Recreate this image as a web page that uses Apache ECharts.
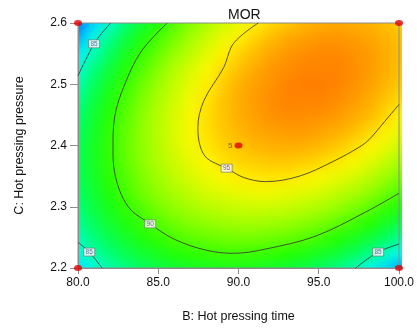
<!DOCTYPE html>
<html><head><meta charset="utf-8">
<script src="https://cdn.jsdelivr.net/npm/echarts@6/dist/echarts.min.js"></script>
<style>
html,body{margin:0;padding:0;background:#fff;}
#wrap{position:relative;width:417px;height:328px;overflow:hidden;background:#fff;}
#clip{position:absolute;left:78px;top:23px;width:324px;height:246px;overflow:hidden;}
#heat{position:absolute;left:-40px;top:-23px;width:379px;height:309px;filter:blur(6px);}
#main{position:absolute;left:0;top:0;width:417px;height:328px;}
</style></head>
<body><div id="wrap"><div id="clip"><div id="heat"></div></div><div id="main"></div></div>
<script>
// ---- data ----
const gridB = [80,81,82,83,84,85,86,87,88,89,90,91,92,93,94,95,96,97,98,99,100];
const gridC = [2.2,2.225,2.25,2.275,2.3,2.325,2.35,2.375,2.4,2.425,2.45,2.475,2.5,2.525,2.55,2.575,2.6];
// MOR surface, one row per C value (bottom to top), one column per B value
const morGrid = [
 [83.5,84.5,85.4,86.2,86.9,87.4,87.9,88.2,88.4,88.5,88.5,88.4,88.1,87.8,87.3,86.7,86.1,85.3,84.3,83.3,82.2],
 [84.5,85.5,86.4,87.3,88.0,88.6,89.1,89.5,89.7,89.9,89.9,89.8,89.6,89.3,88.9,88.4,87.8,87.0,86.1,85.1,84.1],
 [85.2,86.3,87.3,88.2,89.0,89.6,90.2,90.6,90.9,91.1,91.2,91.2,91.0,90.8,90.4,89.9,89.3,88.6,87.8,86.8,85.8],
 [85.9,87.0,88.1,89.0,89.8,90.5,91.1,91.6,91.9,92.2,92.3,92.3,92.2,92.0,91.7,91.3,90.7,90.1,89.3,88.4,87.4],
 [86.4,87.6,88.7,89.6,90.5,91.3,91.9,92.4,92.8,93.1,93.3,93.4,93.3,93.2,92.9,92.5,92.0,91.4,90.7,89.8,88.9],
 [86.8,88.0,89.1,90.2,91.1,91.9,92.5,93.1,93.6,93.9,94.1,94.3,94.3,94.1,93.9,93.6,93.1,92.6,91.9,91.1,90.2],
 [87.0,88.3,89.5,90.5,91.5,92.3,93.1,93.7,94.2,94.6,94.9,95.0,95.1,95.0,94.8,94.5,94.1,93.6,93.0,92.2,91.4],
 [87.1,88.4,89.6,90.8,91.8,92.7,93.4,94.1,94.6,95.1,95.4,95.6,95.7,95.7,95.6,95.3,95.0,94.5,93.9,93.2,92.4],
 [87.0,88.4,89.7,90.9,91.9,92.8,93.7,94.4,95.0,95.5,95.8,96.1,96.2,96.3,96.2,96.0,95.7,95.3,94.7,94.1,93.3],
 [86.8,88.3,89.6,90.8,91.9,92.9,93.8,94.5,95.2,95.7,96.1,96.4,96.6,96.7,96.7,96.5,96.3,95.9,95.4,94.8,94.1],
 [86.5,88.0,89.4,90.6,91.8,92.8,93.7,94.5,95.2,95.8,96.3,96.6,96.9,97.0,97.0,96.9,96.7,96.4,96.0,95.4,94.7],
 [86.0,87.6,89.0,90.3,91.5,92.6,93.5,94.4,95.1,95.8,96.3,96.7,97.0,97.2,97.2,97.2,97.0,96.7,96.3,95.8,95.2],
 [85.4,87.0,88.5,89.8,91.1,92.2,93.2,94.1,94.9,95.6,96.2,96.6,96.9,97.2,97.3,97.3,97.2,96.9,96.6,96.1,95.6],
 [84.7,86.3,87.8,89.2,90.5,91.7,92.8,93.7,94.5,95.3,95.9,96.4,96.8,97.0,97.2,97.2,97.2,97.0,96.7,96.3,95.8],
 [83.8,85.4,87.0,88.5,89.8,91.0,92.1,93.1,94.0,94.8,95.5,96.0,96.5,96.8,97.0,97.1,97.1,96.9,96.7,96.3,95.9],
 [82.7,84.5,86.1,87.6,89.0,90.2,91.4,92.4,93.4,94.2,94.9,95.5,96.0,96.4,96.6,96.8,96.8,96.7,96.5,96.2,95.8],
 [81.6,83.3,85.0,86.5,88.0,89.3,90.5,91.6,92.6,93.5,94.2,94.9,95.4,95.8,96.1,96.3,96.4,96.3,96.2,95.9,95.6]
];
// contour lines [B, C]
const contour85TopLeft = [[82.04,2.6],[81.5,2.584],[81.0,2.566],[80.5,2.541],[80,2.514]];
const contour85BottomLeft = [[80,2.242],[80.7,2.226],[81.5,2.2]];
const contour85BottomRight = [[97.3,2.2],[98.7,2.226],[100,2.239]];
const contour90 = [[85.56,2.6],[83.95,2.554],[82.9,2.499],[82.28,2.446],[82.18,2.397],[82.28,2.356],[83.1,2.301],[84.5,2.272],[86.0,2.247],[88.0,2.229],[89.7,2.224],[91.7,2.231],[94.8,2.252],[97.9,2.291],[100,2.322]];
const contour95 = [[91.23,2.6],[89.7,2.567],[89.07,2.527],[87.84,2.473],[87.47,2.429],[87.6,2.40],[88.0,2.38],[88.8,2.368],[89.26,2.363],[90.3,2.348],[91.7,2.341],[93.8,2.35],[95.9,2.374],[97.5,2.397],[98.15,2.41],[99.1,2.439],[100,2.467]];
const contourLabels = [[81.0,2.566,'85'],[84.5,2.272,'90'],[89.26,2.363,'95'],[80.7,2.226,'85'],[98.7,2.226,'85']];
// design points [B, C, replicates]
const designPoints = [[80,2.2,1],[80,2.6,1],[100,2.2,1],[100,2.6,1],[90,2.4,5]];
const xTicks = {min:80, max:100, step:5};
const yTicks = {min:2.2, max:2.6, step:0.1};
const colorScale = {min:78.6, max:100};
const colorRamp = ['#0000ff','#0064ff','#00fcff','#00ff6a','#22ff00','#94ff00','#fff800','#ff7e00','#ff0500'];

const FONT = '"Liberation Sans", Arial, Helvetica, sans-serif';

// ---- background surface (blurred layer) ----
const heat = echarts.init(document.getElementById('heat'));
const cells = [];
gridC.forEach((c, j) => gridB.forEach((b, i) => cells.push([b, c, morGrid[j][i]])));
const nB = gridB.length, nC = gridC.length;
const PAD = 40;
heat.setOption({
  animation:false,
  grid:{left:40, top:23, width:324, height:246},
  xAxis:{type:'value', min:xTicks.min, max:xTicks.max, show:false},
  yAxis:{type:'value', min:yTicks.min, max:yTicks.max, show:false},
  visualMap:{type:'continuous', show:false, min:colorScale.min, max:colorScale.max, dimension:2, seriesIndex:0,
    inRange:{color:colorRamp}},
  series:[{
    type:'custom', clip:false, data:cells, encode:{x:0, y:1}, progressive:0,
    renderItem(params, api){
      const idx = params.dataIndex;
      const i = idx % nB, j = Math.floor(idx / nB);
      const b = gridB[i], c = gridC[j];
      const bl = i > 0 ? (gridB[i-1] + b) / 2 : b;
      const br = i < nB - 1 ? (gridB[i+1] + b) / 2 : b;
      const cl = j > 0 ? (gridC[j-1] + c) / 2 : c;
      const ch = j < nC - 1 ? (gridC[j+1] + c) / 2 : c;
      const p0 = api.coord([bl, ch]), p1 = api.coord([br, cl]);
      let x0 = p0[0], y0 = p0[1], x1 = p1[0], y1 = p1[1];
      if (i === 0) x0 -= PAD;
      if (i === nB - 1) x1 += PAD;
      if (j === 0) y1 += PAD;
      if (j === nC - 1) y0 -= PAD;
      return {type:'rect', shape:{x:x0-0.5, y:y0-0.5, width:x1-x0+1, height:y1-y0+1},
        style:{fill: api.visual('color')}};
    }
  }]
});

// ---- main chart (axes, contours, points) ----
const main = echarts.init(document.getElementById('main'));
const lineStyle = {color:'#3a3a3a', width:1, opacity:0.85};
function contourSeries(data){
  return {type:'line', data, smooth:0.35, symbol:'none', lineStyle, silent:true, z:3, clip:true};
}
const axisGray = '#8c8c8c';
main.setOption({
  backgroundColor:'transparent',
  animation:false,
  title:{text:'MOR', left:223, top:3, textStyle:{fontFamily:FONT, fontSize:14, fontWeight:'normal', color:'#111'}},
  grid:{left:78, top:23, width:324, height:246, show:true, borderColor:axisGray, borderWidth:1, backgroundColor:'transparent'},
  xAxis:{type:'value', min:xTicks.min, max:xTicks.max, interval:xTicks.step,
    name:'B: Hot pressing time', nameLocation:'middle', nameGap:42,
    nameTextStyle:{fontFamily:FONT, fontSize:12.5, color:'#111'},
    axisLine:{show:true, lineStyle:{color:axisGray}},
    axisTick:{show:true, length:6, lineStyle:{color:axisGray}},
    axisLabel:{margin:9, fontFamily:FONT, fontSize:12, color:'#111', formatter:v => v.toFixed(1)},
    splitLine:{show:false}},
  yAxis:{type:'value', min:yTicks.min, max:yTicks.max, interval:yTicks.step,
    name:'C: Hot pressing pressure', nameLocation:'middle', nameGap:52,
    nameTextStyle:{fontFamily:FONT, fontSize:12.5, color:'#111'},
    axisLine:{show:true, lineStyle:{color:axisGray}},
    axisTick:{show:true, length:8, lineStyle:{color:axisGray}},
    axisLabel:{margin:11, fontFamily:FONT, fontSize:12, color:'#111', formatter:v => v.toFixed(1)},
    splitLine:{show:false}},
  series:[
    contourSeries(contour85TopLeft),
    contourSeries(contour85BottomLeft),
    contourSeries(contour85BottomRight),
    contourSeries(contour90),
    contourSeries(contour95),
    {type:'scatter', data:contourLabels, symbol:'rect', symbolSize:[11,8], z:5, silent:true,
      itemStyle:{color:'#ffffff', borderColor:'#6e6e6e', borderWidth:0.8},
      label:{show:true, position:'inside', formatter:p => p.value[2], fontFamily:FONT, fontSize:6.5, color:'#5b3f8f'}},
    {type:'scatter', clip:false, z:6, silent:true, symbol:'circle', symbolSize:[8,6],
      itemStyle:{color:'#e00000'},
      data:designPoints.map(d => ({value:d, label:{show:d[2] > 1}})),
      label:{position:'left', distance:2, formatter:p => String(p.value[2]), fontFamily:FONT, fontSize:8, color:'#7a2e14'}}
  ]
});
</script></body></html>
